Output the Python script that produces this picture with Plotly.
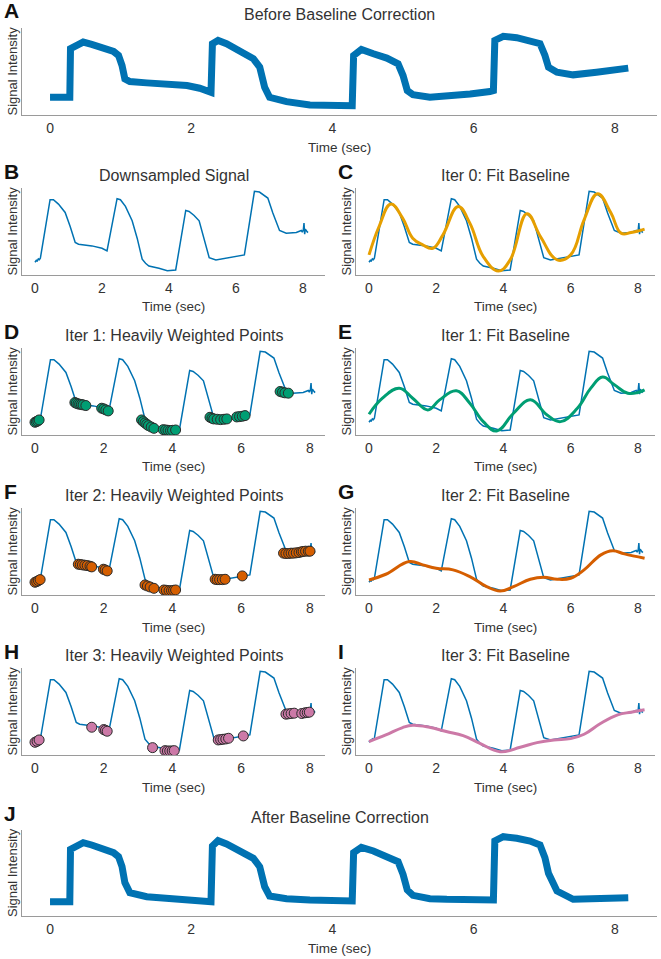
import plotly.graph_objects as go

W, H = 661, 959

# ---------------- data (arbitrary intensity units) ----------------
# Raw signal (panel A), sampled along its centre line
raw_t = [0.0, 0.28, 0.29, 0.36, 0.47, 0.59, 0.73, 0.9, 0.97, 1.02,
         1.06, 1.13, 1.37, 1.7, 1.94, 2.12, 2.28, 2.3, 2.38, 2.5,
         2.69, 2.88, 2.97, 3.04, 3.11, 3.35, 3.68, 4.1, 4.28, 4.3,
         4.41, 4.58, 4.77, 4.93, 5.0, 5.06, 5.14, 5.38, 5.62, 5.95,
         6.23, 6.28, 6.3, 6.42, 6.61, 6.8, 6.94, 7.01, 7.06, 7.18,
         7.41, 7.74, 8.19]
raw_v = [53, 53, 198, 208, 218, 211, 200, 190, 178, 148,
         108, 100, 96, 93, 88, 80, 68, 213, 223, 213,
         193, 168, 143, 83, 53, 40, 30, 28, 28, 178,
         196, 183, 170, 153, 118, 73, 61, 53, 56, 63,
         70, 73, 223, 235, 231, 223, 213, 178, 143, 128,
         120, 128, 140]
# Corrected signal (panel J), same time samples
cor_v = [43, 43, 200, 210, 220, 213, 203, 190, 178, 148,
         100, 70, 58, 53, 50, 48, 43, 210, 226, 216,
         196, 173, 148, 88, 60, 52, 48, 48, 45, 190,
         206, 195, 180, 163, 125, 78, 62, 52, 50, 48,
         48, 48, 225, 238, 233, 225, 213, 175, 128, 75,
         50, 50, 55]

# Downsampled signal
ds_t = [0.0, 0.04, 0.07, 0.1, 0.13, 0.16, 0.45, 0.55, 0.7, 0.9, 1.05, 1.2, 1.3, 1.5,
        1.7, 2.0, 2.15, 2.45, 2.55, 2.7, 2.9, 3.05, 3.2, 3.3, 3.4, 3.7, 3.95, 4.2,
        4.5, 4.6, 4.75, 4.9, 5.05, 5.2, 5.4, 6.0, 6.25, 6.55, 6.7, 6.95, 7.1, 7.3,
        7.5, 7.8, 7.95, 7.98, 8.01, 8.03, 8.05, 8.07, 8.1, 8.13, 8.15]
ds_v = [38, 44, 42, 48, 46, 50, 225, 225, 212, 187, 145, 97, 92, 89,
        87, 80, 72, 228, 225, 205, 162, 110, 47, 35, 27, 20, 13, 15,
        193, 190, 178, 162, 108, 52, 45, 55, 60, 250, 248, 230, 185, 133,
        125, 127, 133, 128, 135, 155, 122, 137, 130, 128, 130]

# Fitted baselines
fit0_t = [0.0, 0.3, 0.65, 1.0, 1.3, 1.6, 1.9, 2.2, 2.65, 3.0, 3.4, 3.85, 4.2, 4.7,
          5.1, 5.6, 6.0, 6.4, 6.8, 7.2, 7.5, 7.8, 8.2]
fit0_v = [60, 145, 212, 170, 110, 90, 80, 120, 205, 155, 55, 12, 45, 183,
          115, 45, 60, 165, 243, 185, 125, 127, 137]
fit1_t = [0.0, 0.4, 0.9, 1.3, 1.75, 2.1, 2.6, 3.0, 3.4, 3.8, 4.3, 4.8, 5.3, 5.7,
          6.2, 6.6, 6.95, 7.3, 7.7, 8.0, 8.2]
fit1_v = [62, 110, 140, 110, 75, 105, 132, 95, 40, 12, 65, 105, 60, 40,
          80, 140, 173, 150, 125, 127, 135]
fit2_t = [0.0, 0.5, 1.2, 1.6, 2.0, 2.5, 3.0, 3.5, 3.9, 4.3, 4.8, 5.2, 5.6, 6.0,
          6.4, 6.9, 7.25, 7.6, 8.2]
fit2_v = [45, 62, 100, 90, 80, 75, 55, 25, 12, 25, 47, 53, 47, 50,
          75, 120, 132, 123, 110]
fit3_t = [0.0, 0.5, 1.0, 1.3, 1.8, 2.3, 2.8, 3.3, 3.9, 4.5, 5.0, 5.5, 6.0, 6.4,
          6.9, 7.4, 7.8, 8.2]
fit3_v = [40, 60, 82, 89, 83, 70, 58, 35, 10, 23, 37, 45, 49, 62,
          95, 120, 128, 135]

# Heavily weighted points
w1_t = [0.0, 0.04, 0.08, 0.12, 1.16, 1.2, 1.25, 1.3, 1.35, 1.4, 1.48, 1.94, 2.0, 2.06, 2.13,
        3.1, 3.15, 3.2, 3.25, 3.3, 3.38, 3.46, 3.73, 3.8, 3.87, 3.94, 4.0, 4.09,
        5.09, 5.15, 5.2, 5.3, 5.4, 5.5, 5.58, 5.87, 5.95, 6.03, 6.11,
        7.13, 7.2, 7.27, 7.37]
w1_v = [38, 40, 42, 45, 97, 95, 93, 92, 91, 90, 88, 80, 78, 75, 72,
        45, 40, 36, 32, 28, 24, 20, 16, 15, 14, 13, 14, 15,
        53, 50, 48, 47, 46, 47, 48, 54, 55, 56, 58,
        130, 128, 126, 125]
w2_t = [0.0, 0.05, 0.1, 0.15, 1.26, 1.32, 1.38, 1.45, 1.52, 1.6, 1.65, 1.99, 2.04, 2.1,
        3.2, 3.27, 3.35, 3.46, 3.75, 3.82, 3.9, 3.97, 4.03, 4.09,
        5.24, 5.3, 5.37, 5.45, 5.53, 6.03,
        7.23, 7.3, 7.38, 7.45, 7.52, 7.6, 7.68, 7.75, 7.8, 7.87, 7.95, 8.0]
w2_v = [38, 40, 43, 46, 92, 91, 90, 89, 88, 86, 84, 77, 75, 72,
        30, 27, 24, 20, 15, 14, 13, 13, 14, 15,
        47, 46, 46, 46, 47, 57,
        125, 124, 124, 125, 125, 126, 127, 129, 130, 131, 131, 131]
w3_t = [0.0, 0.06, 0.12, 1.65, 2.0, 2.05, 2.1, 3.42, 3.78, 3.85, 3.92, 3.99, 4.05,
        5.33, 5.4, 5.47, 5.55, 5.63, 6.06, 7.3, 7.37, 7.45, 7.54, 7.76, 7.85, 7.92, 7.98]
w3_v = [38, 41, 45, 83, 76, 74, 71, 22, 13, 12, 12, 12, 13,
        45, 46, 47, 48, 50, 57, 122, 123, 124, 125, 124, 126, 127, 128]

x_ticks = [0, 2, 4, 6, 8]
panel_letters = ["A", "B", "C", "D", "E", "F", "G", "H", "I", "J"]
panel_titles = ["Before Baseline Correction", "Downsampled Signal", "Iter 0: Fit Baseline",
                "Iter 1: Heavily Weighted Points", "Iter 1: Fit Baseline",
                "Iter 2: Heavily Weighted Points", "Iter 2: Fit Baseline",
                "Iter 3: Heavily Weighted Points", "Iter 3: Fit Baseline",
                "After Baseline Correction"]

# ---------------- styling / layout ----------------
BLUE = "#0072b2"
ORANGE = "#e69f00"
GREEN = "#009e73"
VERM = "#d55e00"
PINK = "#cc79a7"
FONT = "Liberation Sans, Arial, sans-serif"
TXT = "#333333"

LFULL = (22, 657)
LL = (22, 325)
RR = (356, 655)
rows = [(28, 115), (188, 275), (348, 435), (508, 595), (668, 755), (830, 916)]
rng_full = [-0.397, 8.597]
rng_B = [-0.388, 8.657]
rng_R = [-0.387, 8.51]
rng_L = [-0.378, 8.436]

boxes = [
    (LFULL, rows[0], rng_full, 260),
    (LL, rows[1], rng_B, 260),
    (RR, rows[1], rng_R, 260),
    (LL, rows[2], rng_L, 260),
    (RR, rows[2], rng_R, 260),
    (LL, rows[3], rng_L, 260),
    (RR, rows[3], rng_R, 260),
    (LL, rows[4], rng_L, 260),
    (RR, rows[4], rng_R, 260),
    (LFULL, rows[5], rng_full, 258),
]

fig = go.Figure()
layout = dict(width=W, height=H, margin=dict(l=0, r=0, t=0, b=0),
              paper_bgcolor="white", plot_bgcolor="white", showlegend=False,
              font=dict(family=FONT, color=TXT))
annotations = []

for i, ((xl, xr), (yt, yb), xr_rng, ymax) in enumerate(boxes):
    n = "" if i == 0 else str(i + 1)
    xd = [xl / W, xr / W]
    yd = [1 - yb / H, 1 - yt / H]
    layout["xaxis" + n] = dict(domain=xd, range=xr_rng, anchor="y" + n,
                               tickvals=x_ticks, ticks="", showgrid=False, zeroline=False,
                               showline=True, linecolor="#9a9a9a", linewidth=1,
                               tickfont=dict(size=14, color=TXT, family=FONT),
                               ticklabelstandoff=0, fixedrange=True)
    layout["yaxis" + n] = dict(domain=yd, range=[0, ymax], anchor="x" + n,
                               showticklabels=False, ticks="", showgrid=False, zeroline=False,
                               showline=True, linecolor="#9a9a9a", linewidth=1, fixedrange=True)
    cx = (xl + xr) / 2 / W
    annotations.append(dict(x=cx, y=1 - (yt - 13) / H, xref="paper", yref="paper",
                            text=panel_titles[i], showarrow=False, xanchor="center",
                            yanchor="middle", font=dict(size=16, color=TXT, family=FONT)))
    annotations.append(dict(x=cx, y=1 - (yb + 32) / H, xref="paper", yref="paper",
                            text="Time (sec)", showarrow=False, xanchor="center",
                            yanchor="middle", font=dict(size=13.5, color=TXT, family=FONT)))
    annotations.append(dict(x=(xl - 10) / W, y=1 - (yt + yb) / 2 / H, xref="paper", yref="paper",
                            text="Signal Intensity", showarrow=False, textangle=-90,
                            xanchor="center", yanchor="middle",
                            font=dict(size=13, color=TXT, family=FONT)))
    annotations.append(dict(x=(xl - 20) / W, y=1 - (yt - 17) / H, xref="paper", yref="paper",
                            text="<b>" + panel_letters[i] + "</b>", showarrow=False,
                            xanchor="left", yanchor="middle",
                            font=dict(size=21, color="#111111", family=FONT)))

layout["annotations"] = annotations


def ax(i):
    n = "" if i == 0 else str(i + 1)
    return dict(xaxis="x" + n, yaxis="y" + n)


def line(t, v, i, color=BLUE, width=1.5, shape="linear"):
    fig.add_trace(go.Scatter(x=t, y=v, mode="lines", hoverinfo="skip",
                             line=dict(color=color, width=width, shape=shape,
                                       smoothing=1.2 if shape == "spline" else None),
                             **ax(i)))


def pts(t, v, i, color):
    fig.add_trace(go.Scatter(x=t, y=v, mode="markers", hoverinfo="skip",
                             marker=dict(size=10, color=color,
                                         line=dict(color="#2b2b2b", width=1)), **ax(i)))


# A
line(raw_t, raw_v, 0, width=7)
# B
line(ds_t, ds_v, 1)
# C
line(ds_t, ds_v, 2)
line(fit0_t, fit0_v, 2, ORANGE, 3, "spline")
# D
line(ds_t, ds_v, 3)
pts(w1_t, w1_v, 3, GREEN)
# E
line(ds_t, ds_v, 4)
line(fit1_t, fit1_v, 4, GREEN, 3, "spline")
# F
line(ds_t, ds_v, 5)
pts(w2_t, w2_v, 5, VERM)
# G
line(ds_t, ds_v, 6)
line(fit2_t, fit2_v, 6, VERM, 3, "spline")
# H
line(ds_t, ds_v, 7)
pts(w3_t, w3_v, 7, PINK)
# I
line(ds_t, ds_v, 8)
line(fit3_t, fit3_v, 8, PINK, 3, "spline")
# J
line(raw_t, cor_v, 9, width=7)

fig.update_layout(**layout)
fig.write_html("out.html", config={"displayModeBar": False},
               post_script="document.body.style.margin='0px';")
